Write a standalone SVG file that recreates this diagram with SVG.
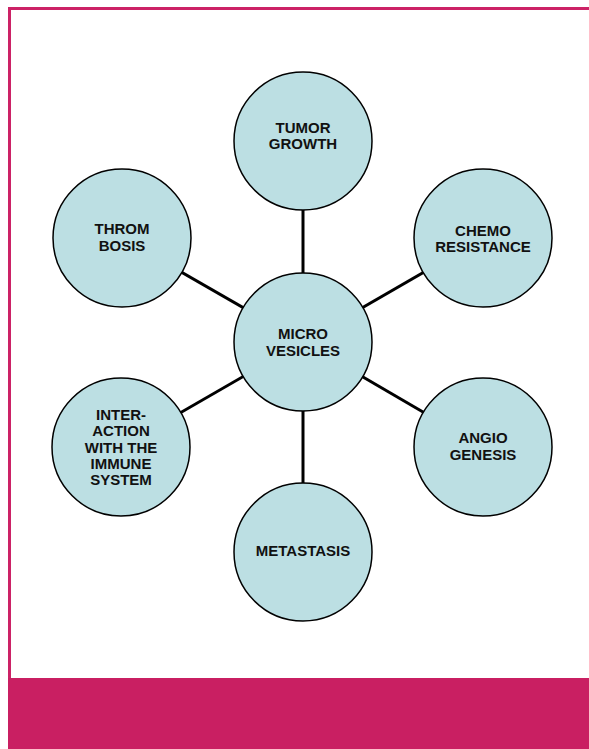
<svg xmlns="http://www.w3.org/2000/svg" width="589" height="749" viewBox="0 0 589 749">
<style>
.node circle{fill:#BCDFE3;stroke:#000;stroke-width:1.5}
.node text{font-family:"Liberation Sans",Arial,sans-serif;font-weight:bold;font-size:15px;fill:#111;text-anchor:middle}
#connectors line{stroke:#000;stroke-width:3}
</style>
<rect x="0" y="0" width="589" height="749" fill="#fff"/>
<g id="frame">
<rect x="8" y="7" width="581" height="3" fill="#CC2266"/>
<rect x="8" y="7" width="3" height="672" fill="#CC2266"/>
<rect x="8" y="678" width="581" height="71" fill="#C91F62"/>
</g>
<g id="connectors">
<line x1="303" y1="342" x2="303" y2="141"/>
<line x1="303" y1="342" x2="122" y2="238"/>
<line x1="303" y1="342" x2="483" y2="238"/>
<line x1="303" y1="342" x2="121" y2="447"/>
<line x1="303" y1="342" x2="483" y2="447"/>
<line x1="303" y1="342" x2="303" y2="552"/>
</g>
<g id="tumor-growth" class="node"><circle cx="303" cy="141" r="69"/><text x="303" y="133">TUMOR</text><text x="303" y="149">GROWTH</text></g>
<g id="thrombosis" class="node"><circle cx="122" cy="238" r="69"/><text x="122" y="234">THROM</text><text x="122" y="250.5">BOSIS</text></g>
<g id="chemo-resistance" class="node"><circle cx="483" cy="238" r="69"/><text x="483" y="236">CHEMO</text><text x="483" y="252.3">RESISTANCE</text></g>
<g id="microvesicles" class="node"><circle cx="303" cy="342" r="69"/><text x="303" y="339">MICRO</text><text x="303" y="355.7">VESICLES</text></g>
<g id="interaction" class="node"><circle cx="121" cy="447" r="69"/><text x="121" y="420">INTER-</text><text x="121" y="436.3">ACTION</text><text x="121" y="452.6">WITH THE</text><text x="121" y="469">IMMUNE</text><text x="121" y="485.3">SYSTEM</text></g>
<g id="angiogenesis" class="node"><circle cx="483" cy="447" r="69"/><text x="483" y="443">ANGIO</text><text x="483" y="459.5">GENESIS</text></g>
<g id="metastasis" class="node"><circle cx="303" cy="552" r="69"/><text x="303" y="556">METASTASIS</text></g>
</svg>
